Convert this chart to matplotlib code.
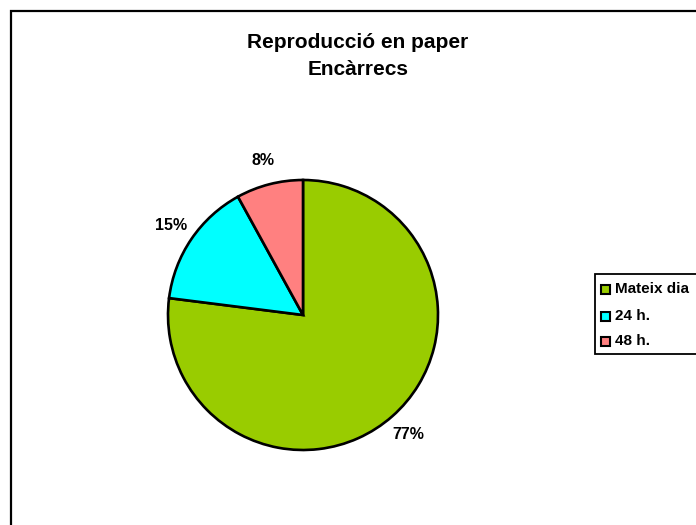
import matplotlib
matplotlib.use("Agg")
import matplotlib.pyplot as plt
from matplotlib.patches import Rectangle

title = "Reproducció en paper\nEncàrrecs"
categories = ["Mateix dia", "24 h.", "48 h."]
values = [77, 15, 8]
colors = ["#99CC00", "#00FFFF", "#FF8080"]

W, H = 696, 525
plt.rcParams["font.family"] = ["Liberation Sans", "DejaVu Sans"]
fig = plt.figure(figsize=(W / 100, H / 100), dpi=100)
fig.patch.set_facecolor("white")

# chart area frame (open toward right/bottom edges)
fig.add_artist(Rectangle((11 / W, -0.05), 1.2, 1 - 11 / H + 0.05,
                         transform=fig.transFigure, fill=False,
                         edgecolor="black", linewidth=1.6))

# pie
cx, cy, r = 303, 315, 135
ax = fig.add_axes([(cx - r) / W, (H - cy - r) / H, 2 * r / W, 2 * r / H])
wedges, texts, autotexts = ax.pie(
    values, colors=colors, startangle=90, counterclock=False,
    wedgeprops=dict(edgecolor="black", linewidth=1.9),
    autopct=lambda p: f"{p:.0f}%", pctdistance=1.18,
    textprops=dict(fontsize=11.5, fontweight="bold", color="black"),
)
ax.set_xlim(-1, 1)
ax.set_ylim(-1, 1)
ax.set_aspect("equal")
ax.axis("off")

# title
fig.text(358 / W, 1 - 56 / H, title, ha="center", va="center",
         fontsize=15, fontweight="bold", linespacing=1.5)

# legend
lx, ly_top, ly_bot = 595, 274, 354
fig.add_artist(Rectangle((lx / W, 1 - ly_bot / H), 0.3, (ly_bot - ly_top) / H,
                         transform=fig.transFigure, facecolor="white",
                         edgecolor="black", linewidth=1.3))
rows = [289, 316, 341]
for name, col, y in zip(categories, colors, rows):
    fig.add_artist(Rectangle((601 / W, 1 - (y + 4.5) / H), 9 / W, 9 / H,
                             transform=fig.transFigure, facecolor=col,
                             edgecolor="black", linewidth=1.5))
    fig.text(615 / W, 1 - y / H, name, ha="left", va="center",
             fontsize=11, fontweight="bold")

fig.savefig("out.png", dpi=100)
